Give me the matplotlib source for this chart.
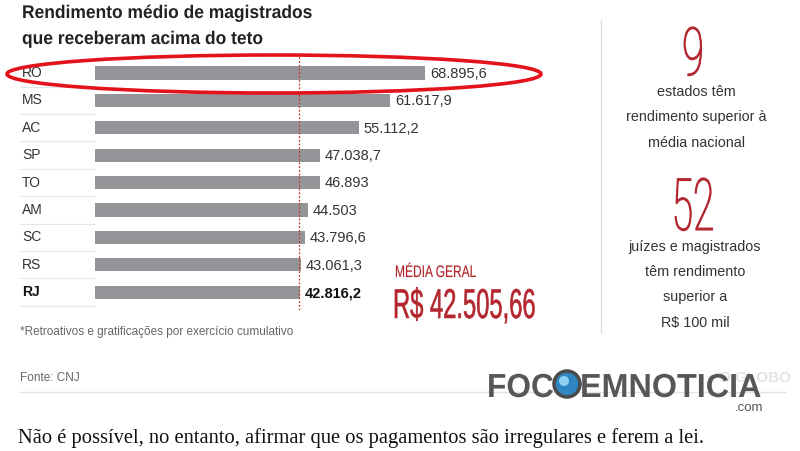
import matplotlib.pyplot as plt
from matplotlib.patches import Ellipse, Circle
from matplotlib.patheffects import AbstractPathEffect
from matplotlib.transforms import Affine2D

estados = ["RO", "MS", "AC", "SP", "TO", "AM", "SC", "RS", "RJ"]
rendimento = [68895.6, 61617.9, 55112.2, 47038.7, 46893.0, 44503.0, 43796.6, 43061.3, 42816.2]
media_geral = 42505.66

RED = "#b3262e"
GRAY_BAR = "#949599"
TXT = "#333333"
SANS = "Liberation Sans"


def br(v):
    # 68895.6 -> "68.895,6"
    if float(v).is_integer():
        return f"{int(v):,}".replace(",", ".")
    s = f"{v:,.1f}"
    return s.replace(",", "X").replace(".", ",").replace("X", ".")


class Squeeze(AbstractPathEffect):
    """squeeze glyphs horizontally around the text anchor (condensed look)"""

    def __init__(self, sx, x0, lw=0):
        super().__init__()
        self.sx, self.x0, self.lw = sx, x0, lw

    def draw_path(self, renderer, gc, tpath, affine, rgbFace=None):
        aff = affine + Affine2D().translate(-self.x0, 0).scale(self.sx, 1).translate(self.x0, 0)
        gc0 = renderer.new_gc()
        gc0.copy_properties(gc)
        if self.lw:
            gc0.set_linewidth(self.lw)
            gc0.set_foreground(rgbFace)
        else:
            gc0.set_linewidth(0)
        renderer.draw_path(gc0, tpath, aff, rgbFace)
        gc0.restore()


W, H = 800, 451
fig = plt.figure(figsize=(W / 100, H / 100), dpi=100)
fig.patch.set_facecolor("white")


def box(x0, y0, x1, y1):
    return [x0 / W, 1 - y1 / H, (x1 - x0) / W, (y1 - y0) / H]


# bar chart
ax = fig.add_axes(box(95, 55, 595, 310))
pos = list(range(len(estados)))
ax.barh(pos, rendimento, height=0.48, color=GRAY_BAR, zorder=2)
ax.set_xlim(0, 68895.6 * 500 / 330)
ax.set_ylim(8.65, -0.657)
ax.axvline(media_geral, color="#c0392b", lw=0.9, ls=(0, (1.5, 1.5)), zorder=3)
ax.axis("off")
for i, v in enumerate(rendimento):
    bold = estados[i] == "RJ"
    ax.text(v + 1000, i + 0.03, br(v), va="center", ha="left", fontsize=10.5,
            family=SANS, color="#111111" if bold else TXT,
            fontweight="bold" if bold else "normal")

# overlay in pixel coords
ov = fig.add_axes([0, 0, 1, 1], zorder=5)
ov.set_xlim(0, W)
ov.set_ylim(H, 0)
ov.axis("off")
ov.patch.set_alpha(0)


def narrow(x, y, s, pt, sx, color, ha="left", weight="normal", lw=0, z=6, family=SANS):
    x0 = ov.transData.transform((x, y))[0]
    ov.text(x, y, s, fontsize=pt, family=family, color=color, ha=ha, va="baseline",
            fontweight=weight, zorder=z, path_effects=[Squeeze(sx, x0, lw)])


narrow(22, 18, "Rendimento médio de magistrados", 13.2, 0.95, "#222222", weight="bold")
narrow(22, 44, "que receberam acima do teto", 13.2, 0.95, "#222222", weight="bold")

for i, e in enumerate(estados):
    y = 73 + 27.4 * i
    bold = e == "RJ"
    ov.text(22, y, e, fontsize=10, family=SANS, va="center",
            color="#111111" if bold else TXT, fontweight="bold" if bold else "normal")
    ov.plot([20, 95], [y + 13.5, y + 13.5], color="#e6e6e6", lw=0.8)

ov.add_patch(Ellipse((274, 74), 534, 38, fill=False, ec="#e3131b", lw=2.6, zorder=7))

narrow(395, 277, "MÉDIA GERAL", 12, 0.72, RED, lw=0.1)
narrow(393, 318, "R$ 42.505,66", 30, 0.57, RED, lw=0.4)

# right panel
ov.plot([601, 601], [20, 332], color="#dddddd", lw=1)
narrow(693, 75, "9", 48, 0.6, RED, ha="center", weight="light", family="Roboto", lw=0.8)
for k, t in enumerate(["estados têm", "rendimento superior à", "média nacional"]):
    ov.text(696, 92 + 25.5 * k, t, fontsize=10.4, family=SANS, color=TXT,
            ha="center", va="center")
narrow(693, 230, "52", 52, 0.54, RED, ha="center", weight="light", family="Roboto", lw=0.8)
for k, t in enumerate(["juízes e magistrados", "têm rendimento", "superior a", "R$ 100 mil"]):
    ov.text(695, 247 + 25.2 * k, t, fontsize=10.4, family=SANS, color=TXT,
            ha="center", va="center")

ov.text(20, 332, "*Retroativos e gratificações por exercício cumulativo", fontsize=8.5,
        family=SANS, color="#666666", va="center")
ov.text(20, 378, "Fonte: CNJ", fontsize=8.5, family=SANS, color="#666666", va="center")
ov.plot([20, 785], [392, 392], color="#e3e3e3", lw=1)
ov.text(755, 378, "O GLOBO", fontsize=11, fontweight="bold", family=SANS,
        color="#e3e3e3", ha="center", va="center", zorder=1)

# watermark logo
narrow(487, 397, "FOC", 24, 0.95, "#575757", weight="bold")
ov.add_patch(Circle((567, 384), 13, fc="#2e86c1", ec="#4a4a4a", lw=2.5, zorder=8))
ov.add_patch(Circle((564, 381), 5, fc="#8fd0f3", ec="none", zorder=9))
narrow(580, 397, "EMNOTICIA", 24, 0.97, "#575757", weight="bold")
ov.text(763, 408, ".com", fontsize=9.5, family=SANS, color="#555555", ha="right", va="center")

ov.text(18, 443, "Não é possível, no entanto, afirmar que os pagamentos são irregulares e ferem a lei.",
        fontsize=14.8, family="Liberation Serif", color="#111111", va="baseline")

fig.savefig("out.png", dpi=100, facecolor="white")
